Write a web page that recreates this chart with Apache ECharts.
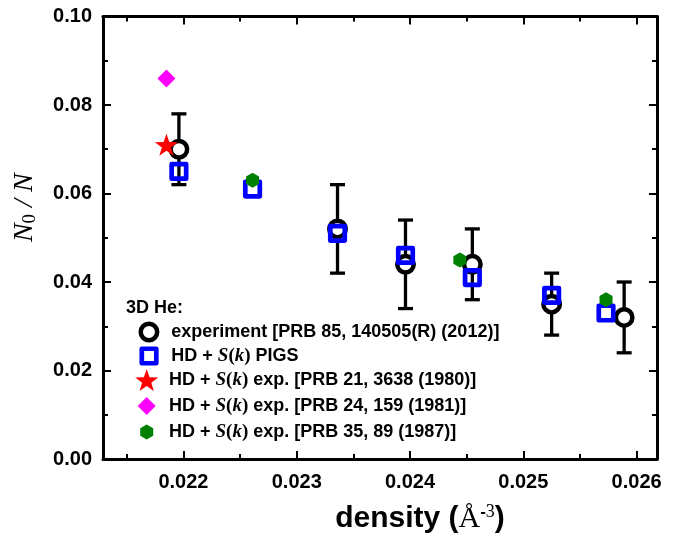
<!DOCTYPE html>
<html>
<head>
<meta charset="utf-8">
<script src="https://cdn.jsdelivr.net/npm/echarts@6/dist/echarts.min.js"></script>
<style>
  html, body { margin: 0; padding: 0; background: #fff; }
  #chart { width: 689px; height: 539px; }
</style>
</head>
<body>
<div id="chart"></div>
<script>
// experiment [PRB 85, 140505(R) (2012)]
const expDensity = [0.02196, 0.02336, 0.02396, 0.02455, 0.02525, 0.02589];
const expN0 = [0.070, 0.052, 0.044, 0.044, 0.035, 0.032];
const expErr = [0.008, 0.010, 0.010, 0.008, 0.007, 0.008];
// HD + S(k) PIGS
const pigsDensity = [0.02196, 0.02261, 0.02336, 0.02396, 0.02455, 0.02525, 0.02573];
const pigsN0 = [0.065, 0.061, 0.051, 0.046, 0.041, 0.037, 0.033];
// HD + S(k) exp.
const prb21Density = [0.02185];
const prb21N0 = [0.071];
const prb24Density = [0.02185];
const prb24N0 = [0.086];
const prb35Density = [0.02261, 0.02444, 0.02573];
const prb35N0 = [0.063, 0.045, 0.036];

const xTicks = [0.022, 0.023, 0.024, 0.025, 0.026];
const xMinorTicks = [0.0215, 0.0225, 0.0235, 0.0245, 0.0255];
const legendNames = ['exp', 'pigs', 'prb21', 'prb24', 'prb35'];
const legendLabels = [
  'experiment [PRB 85, 140505(R) (2012)]',
  'HD + {i|S}{r|(}{i|k}{r|)} PIGS',
  'HD + {i|S}{r|(}{i|k}{r|)} exp. [PRB 21, 3638 (1980)]',
  'HD + {i|S}{r|(}{i|k}{r|)} exp. [PRB 24, 159 (1981)]',
  'HD + {i|S}{r|(}{i|k}{r|)} exp. [PRB 35, 89 (1987)]'
];

const X_MIN = 0.02129, X_MAX = 0.02618;
const SANS = 'Liberation Sans, Arial, sans-serif';
const SERIF = 'Liberation Serif, Times New Roman, serif';
const STAR = 'path://M0,-10L2.35,-3.24L9.51,-3.09L3.8,1.24L5.88,8.09L0,4L-5.88,8.09L-3.8,1.24L-9.51,-3.09L-2.35,-3.24Z';
const HEX = 'path://M0,-1L0.866,-0.5L0.866,0.5L0,1L-0.866,0.5L-0.866,-0.5Z';

// marker styles, shared by the plot and the legend
const styles = {
  exp: { symbol: 'circle', size: [16.5, 16.5], item: { color: '#fff', borderColor: '#000', borderWidth: 4.5, opacity: 1 } },
  pigs: { symbol: 'rect', size: [14.5, 14.5], item: { color: 'rgba(255,255,255,0)', borderColor: '#0000ff', borderWidth: 4.7, borderJoin: 'round', opacity: 1 } },
  prb21: { symbol: STAR, size: [23, 22], item: { color: '#ff0000', borderWidth: 0, opacity: 1 } },
  prb24: { symbol: 'diamond', size: [18, 18], item: { color: '#ff00ff', borderWidth: 0, opacity: 1 } },
  prb35: { symbol: HEX, size: [13, 15], item: { color: '#008000', borderWidth: 0, opacity: 1 } }
};

const chart = echarts.init(document.getElementById('chart'));

function pairs(xs, ys) {
  return xs.map((x, i) => [x, ys[i]]);
}

// x axis helper: main ticks (with labels) or minor ticks, bottom or top
function xAxisDef(pos, ticks, len, withLine, withLabel) {
  return {
    type: 'value', position: pos, min: X_MIN, max: X_MAX,
    axisLine: { show: withLine, onZero: false, lineStyle: { color: '#000', width: 3 } },
    axisTick: { show: true, inside: true, length: len, customValues: ticks, lineStyle: { color: '#000', width: 2 } },
    axisLabel: {
      show: withLabel, customValues: ticks, margin: 13,
      formatter: v => v.toFixed(3),
      color: '#000', fontFamily: SANS, fontWeight: 'bold', fontSize: 20
    },
    splitLine: { show: false }
  };
}

function yAxisDef(pos, withLabel) {
  return {
    type: 'value', position: pos, min: 0, max: 0.1, interval: 0.02,
    axisLine: { show: true, onZero: false, lineStyle: { color: '#000', width: 3 } },
    axisTick: { show: true, inside: true, length: 8, lineStyle: { color: '#000', width: 2 } },
    minorTick: { show: true, splitNumber: 2, length: 5, lineStyle: { color: '#000', width: 2 } },
    axisLabel: {
      show: withLabel, margin: 11, formatter: v => v.toFixed(2),
      color: '#000', fontFamily: SANS, fontWeight: 'bold', fontSize: 20
    },
    splitLine: { show: false }
  };
}

const xAxes = [
  xAxisDef('bottom', xTicks, 8, true, true),
  xAxisDef('bottom', xMinorTicks, 5, false, false),
  xAxisDef('top', xTicks, 8, true, false),
  xAxisDef('top', xMinorTicks, 5, false, false)
];
xAxes[0].name = '{t|density (}{a|Å}{s|-}{n|3}{t|)}';
xAxes[0].nameLocation = 'middle';
xAxes[0].nameGap = 44;
xAxes[0].nameTextStyle = {
  padding: [0, 0, 0, 80],
  rich: {
    t: { fontFamily: SANS, fontWeight: 'bold', fontSize: 30, color: '#000' },
    a: { fontFamily: SERIF, fontSize: 30, color: '#000' },
    s: { fontFamily: SANS, fontWeight: 'bold', fontSize: 17, color: '#000', padding: [0, 0, 14, 0] },
    n: { fontFamily: SERIF, fontSize: 18, color: '#000', padding: [0, 0, 14, 0] }
  }
};

const yAxes = [yAxisDef('left', true), yAxisDef('right', false)];
yAxes[0].name = '{n|N}{b|0}{n| / N}';
yAxes[0].nameLocation = 'middle';
yAxes[0].nameGap = 63;
yAxes[0].nameTextStyle = {
  padding: [0, 0, 0, 60],
  rich: {
    n: { fontFamily: SERIF, fontStyle: 'italic', fontSize: 28, color: '#000' },
    b: { fontFamily: SERIF, fontSize: 19, color: '#000', padding: [12, 0, 0, 0] }
  }
};

// one legend per row so each icon keeps the size of its marker
const rowCenters = [332, 356, 380, 406, 432];
const legends = legendNames.map((name, i) => {
  const st = styles[name];
  const w = st.size[0], h = st.size[1];
  return {
    orient: 'vertical', left: 146.7 - w / 2, top: rowCenters[i] - 12, padding: 0,
    itemWidth: w, itemHeight: h,
    data: [{ name: name, icon: st.symbol, itemStyle: st.item }],
    formatter: () => legendLabels[i],
    textStyle: {
      fontFamily: SANS, fontWeight: 'bold', fontSize: 18, color: '#000', lineHeight: 24,
      padding: [0, 0, 0, 17.3 - w / 2],
      rich: {
        i: { fontFamily: SERIF, fontStyle: 'italic', fontSize: 19, color: '#000', lineHeight: 24 },
        r: { fontFamily: SERIF, fontSize: 19, color: '#000', lineHeight: 24 }
      }
    }
  };
});

const errorData = expDensity.map((d, i) => [d, expN0[i], expErr[i]]);

function markerSeries(name, xs, ys) {
  const st = styles[name];
  return {
    type: 'scatter', name: name, z: name === 'exp' ? 2 : (name === 'pigs' ? 3 : 4),
    symbol: st.symbol, symbolSize: st.size,
    data: pairs(xs, ys),
    itemStyle: st.item
  };
}

chart.setOption({
  animation: false,
  backgroundColor: '#fff',
  grid: { left: 103, right: 32, top: 16.5, bottom: 74 },
  title: {
    text: '3D He:', left: 126, top: 299, padding: 0,
    textStyle: { fontFamily: SANS, fontWeight: 'bold', fontSize: 18, color: '#000' }
  },
  legend: legends,
  xAxis: xAxes,
  yAxis: yAxes,
  series: [
    {
      type: 'custom', name: 'errorbars', xAxisIndex: 0, yAxisIndex: 0, z: 1,
      data: errorData,
      encode: { x: 0, y: 1 },
      renderItem: function (params, api) {
        const x = api.value(0), y = api.value(1), e = api.value(2);
        const top = api.coord([x, y + e]);
        const bot = api.coord([x, y - e]);
        const hw = 7.5;
        const st = { stroke: '#000', lineWidth: 3.3 };
        return {
          type: 'group',
          children: [
            { type: 'line', shape: { x1: top[0], y1: top[1], x2: bot[0], y2: bot[1] }, style: st },
            { type: 'line', shape: { x1: top[0] - hw, y1: top[1], x2: top[0] + hw, y2: top[1] }, style: st },
            { type: 'line', shape: { x1: bot[0] - hw, y1: bot[1], x2: bot[0] + hw, y2: bot[1] }, style: st }
          ]
        };
      }
    },
    markerSeries('exp', expDensity, expN0),
    markerSeries('pigs', pigsDensity, pigsN0),
    markerSeries('prb21', prb21Density, prb21N0),
    markerSeries('prb24', prb24Density, prb24N0),
    markerSeries('prb35', prb35Density, prb35N0)
  ]
});
</script>
</body>
</html>
